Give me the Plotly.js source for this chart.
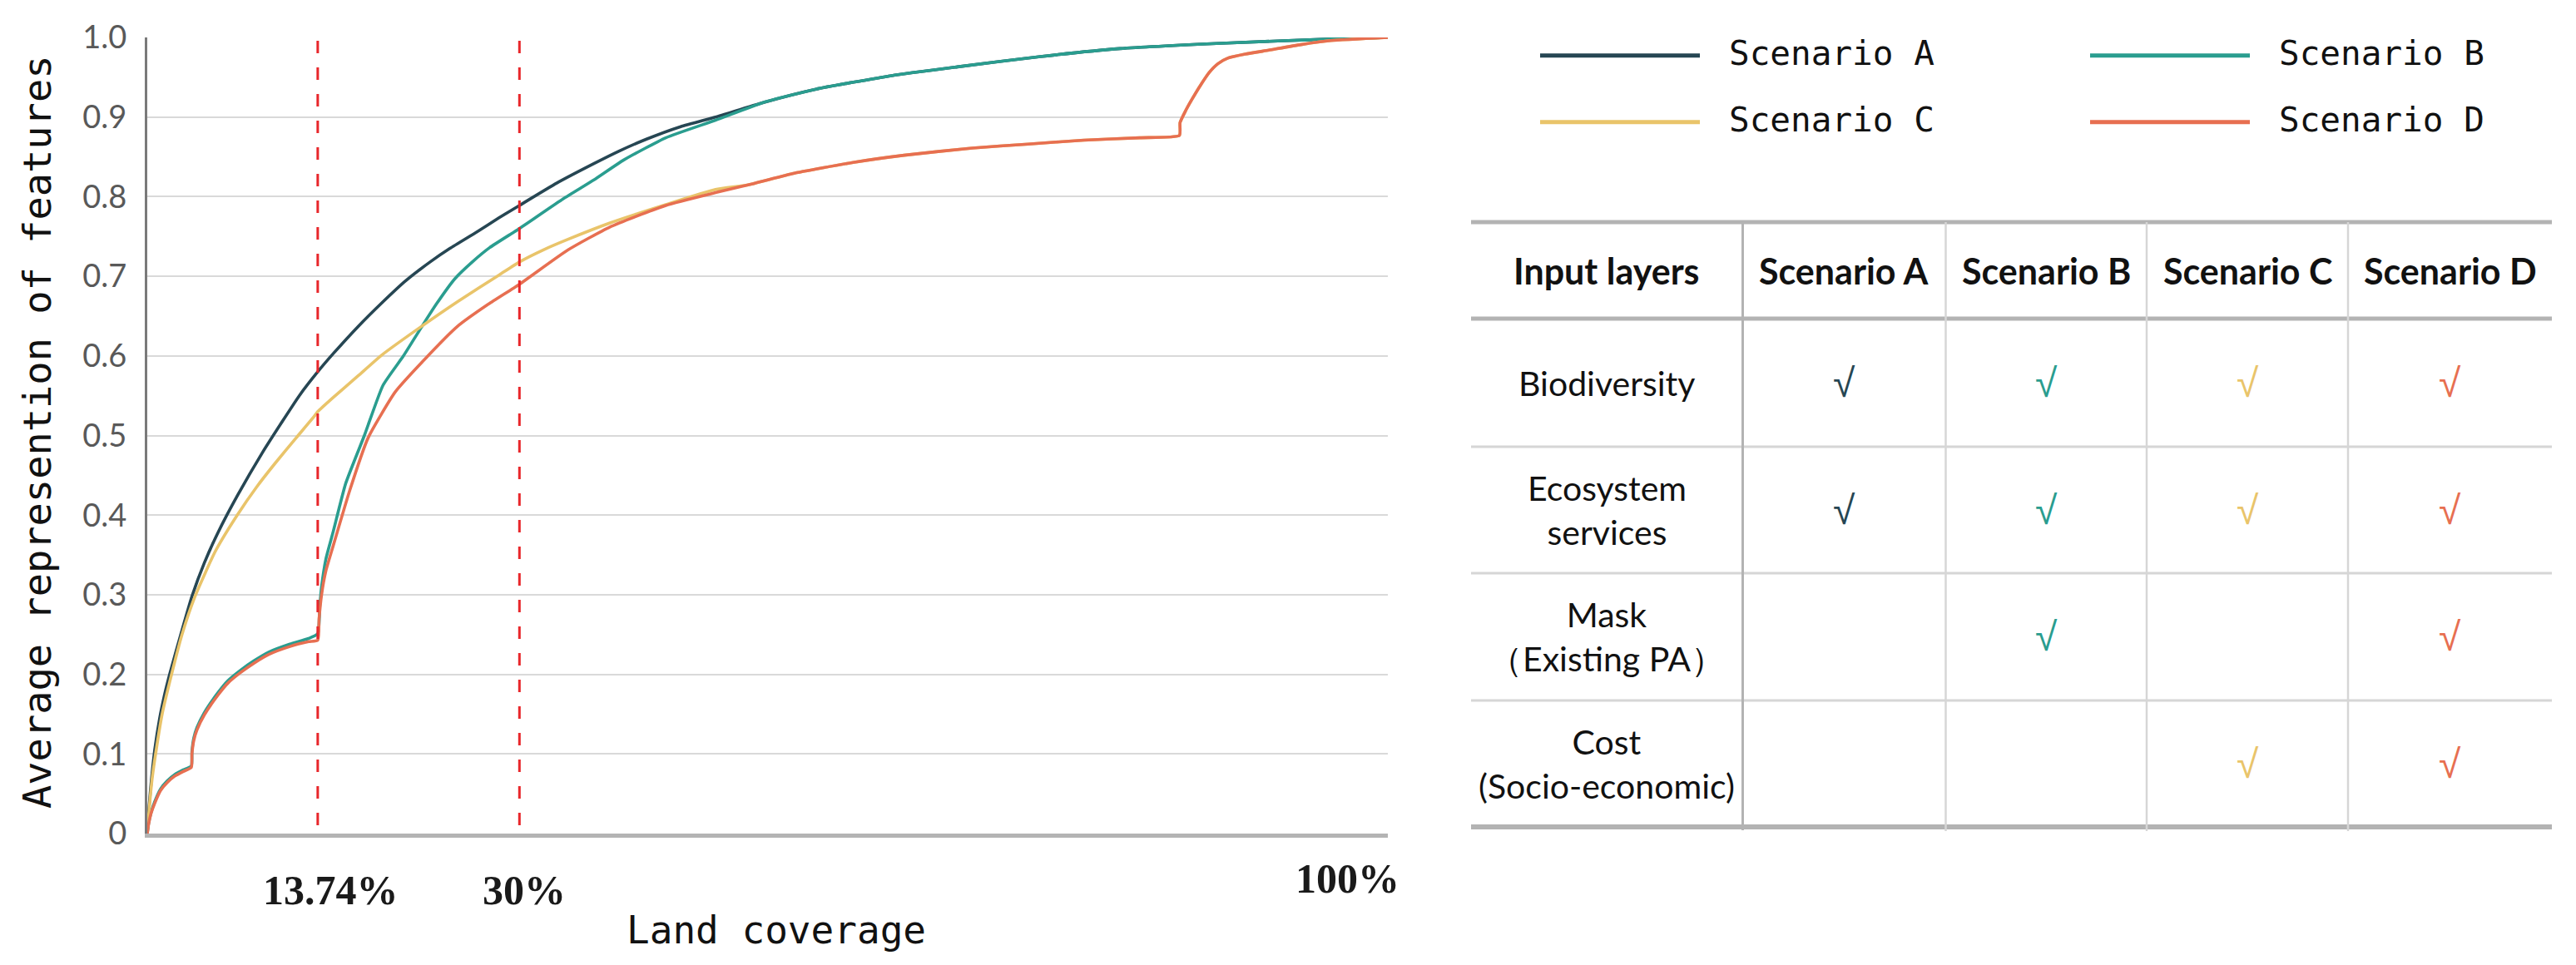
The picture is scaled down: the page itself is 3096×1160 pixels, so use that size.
<!DOCTYPE html>
<html><head><meta charset="utf-8">
<script src="https://cdn.plot.ly/plotly-3.0.1.min.js"></script>
<style>html,body{margin:0;padding:0;background:#fff;}#chart{width:3096px;height:1160px;}</style>
</head><body><div id="chart"></div>
<script>
// ---------------- data ----------------
const scenarioNames = ['Scenario A', 'Scenario B', 'Scenario C', 'Scenario D'];
const seriesColors = ['#264653', '#2a9d8f', '#e9c46a', '#e76f51'];

const aCoverage = [0,0.15,0.35,0.6,1.0,1.4,1.8,2.7,3.6,4.6,5.7,7.25,9.3,10.9,12.3,13.74,15.0,17.0,19.0,20.8,22.8,24.4,26.6,28.3,30,33,36,38,40.2,43,45.8,49.6,53.9,60,65.3,72,78.4,87,95.4,100];
const aRepresentation = [0,0.035,0.07,0.105,0.145,0.175,0.2,0.25,0.298,0.34,0.378,0.424,0.479,0.518,0.551,0.58,0.603,0.637,0.668,0.694,0.718,0.735,0.756,0.773,0.789,0.817,0.8415,0.857,0.872,0.888,0.90,0.918,0.935,0.952,0.963,0.976,0.986,0.993,0.998,1.0];

const bCoverage = [0,0.1,0.3,0.6,1.07,1.6,2.2,2.9,3.55,3.6,3.75,4.0,4.6,5.7,6.5,7.5,8.6,9.8,11.5,13.0,13.74,13.9,14.05,14.4,15.0,16.0,17.5,19.0,20.65,22.1,23.3,24.8,26.2,27.6,29.5,30,33.5,36,38.4,41.8,45.8,49.6,53.9,60,65.3,72,78.4,87,95.4,100];
const bRepresentation = [0,0.012,0.026,0.04,0.056,0.066,0.074,0.080,0.085,0.103,0.12,0.133,0.152,0.177,0.192,0.205,0.217,0.228,0.238,0.245,0.251,0.285,0.31,0.345,0.38,0.44,0.50,0.563,0.60,0.636,0.665,0.697,0.718,0.736,0.755,0.760,0.797,0.821,0.846,0.874,0.896,0.918,0.935,0.952,0.963,0.976,0.986,0.993,0.998,1.0];

const cCoverage = [0,0.15,0.4,0.74,1.2,1.8,2.8,3.85,5.5,7.25,8.8,10.3,12,13.5,13.74,15,17,18.9,22.1,25,28.4,30,31.9,34,37.3,41.8,45.8,48.5,52,56.9,61,66.5,71,75.5,80,83.2,83.25,83.7,84.2,84.9,85.6,86.3,87.1,88.5,90.4,93,95.4,100];
const cRepresentation = [0,0.03,0.07,0.107,0.15,0.19,0.25,0.298,0.355,0.40,0.435,0.465,0.497,0.525,0.53,0.548,0.575,0.601,0.637,0.668,0.702,0.718,0.733,0.747,0.767,0.790,0.809,0.815,0.829,0.843,0.852,0.861,0.866,0.871,0.874,0.877,0.893,0.908,0.922,0.94,0.956,0.967,0.974,0.979,0.984,0.991,0.996,1.0];

const dCoverage = [0,0.1,0.3,0.6,1.07,1.6,2.2,2.9,3.55,3.6,3.75,4.0,4.6,5.7,6.5,7.5,8.6,9.8,11.5,13.0,13.74,13.85,14.05,14.4,15.0,16.3,17.8,20.0,22.5,25,27.5,30,33.9,37.3,41.8,45.8,48.5,52,56.9,61,66.5,71,75.5,80,83.2,83.25,83.7,84.2,84.9,85.6,86.3,87.1,88.5,90.4,93,95.4,100];
const dRepresentation = [0,0.011,0.025,0.038,0.054,0.064,0.072,0.078,0.083,0.100,0.117,0.13,0.149,0.174,0.189,0.202,0.214,0.225,0.235,0.241,0.243,0.27,0.30,0.33,0.362,0.43,0.497,0.555,0.598,0.637,0.665,0.690,0.733,0.762,0.789,0.805,0.815,0.829,0.843,0.852,0.861,0.866,0.871,0.874,0.877,0.893,0.908,0.922,0.94,0.956,0.967,0.974,0.979,0.984,0.991,0.996,1.0];

const referenceCoverage = [13.74, 30];
const xTickVals = [13.74, 30, 100];
const xTickText = ['13.74%', '30%', '100%'];
const yTickVals = [0, 0.1, 0.2, 0.3, 0.4, 0.5, 0.6, 0.7, 0.8, 0.9, 1.0];
const yTickText = ['0', '0.1', '0.2', '0.3', '0.4', '0.5', '0.6', '0.7', '0.8', '0.9', '1.0'];

const tableHeader = ['Input layers', 'Scenario A', 'Scenario B', 'Scenario C', 'Scenario D'];
const inputLayers = ['Biodiversity', 'Ecosystem<br>services', 'Mask<br>（Existing PA）', 'Cost<br>(Socio-economic)'];
const usesA = [1, 1, 0, 0];
const usesB = [1, 1, 1, 0];
const usesC = [1, 1, 0, 1];
const usesD = [1, 1, 1, 1];

// ---------------- layout helpers ----------------
const W = 3096, H = 1160;
const PL = 177, PR = 1668, PT = 45, PB = 1002;
const px = v => v / W;
const py = v => 1 - v / H;

const xs = [aCoverage, bCoverage, cCoverage, dCoverage];
const ys = [aRepresentation, bRepresentation, cRepresentation, dRepresentation];
const traces = scenarioNames.map((n, i) => ({
  type: 'scatter', mode: 'lines', name: n, x: xs[i], y: ys[i],
  line: {color: seriesColors[i], width: 3.6, shape: 'spline', smoothing: 0.5}, showlegend: false, hoverinfo: 'skip'
}));

const shapes = [];
const annotations = [];

// reference dashed lines
referenceCoverage.forEach(v => shapes.push({
  type: 'line', xref: 'x', yref: 'y', x0: v, x1: v, y0: -0.023, y1: 1,
  line: {color: '#e8262a', width: 3, dash: '15px,17px'}, layer: 'above'
}));

// x tick labels
const xLabShift = [16, 6, -49];
const xLabY = [1070, 1070, 1056];
xTickText.forEach((t, i) => annotations.push({
  xref: 'x', yref: 'paper', x: xTickVals[i], y: py(xLabY[i]), xshift: xLabShift[i],
  text: t, showarrow: false, xanchor: 'center', yanchor: 'middle',
  font: {family: 'Liberation Serif', size: 50, color: '#1a1a1a', weight: 700}
}));

// axis titles
annotations.push({
  xref: 'paper', yref: 'paper', x: px(44), y: py(520), textangle: -90,
  text: 'Average represention of features', showarrow: false, xanchor: 'center', yanchor: 'middle',
  font: {family: 'DejaVu Sans Mono', size: 47, color: '#111'}
});
annotations.push({
  xref: 'paper', yref: 'paper', x: px(933), y: py(1118),
  text: 'Land coverage', showarrow: false, xanchor: 'center', yanchor: 'middle',
  font: {family: 'DejaVu Sans Mono', size: 46, color: '#111'}
});

// legend (manual)
const legRowY = [66.7, 146.7, 66.7, 146.7];
const legColX = [1851, 1851, 2512, 2512];
const legOrder = [0, 2, 1, 3];
legOrder.forEach((si, k) => {
  const x0 = legColX[k], y0 = legRowY[k];
  shapes.push({type: 'line', xref: 'paper', yref: 'paper', x0: px(x0), x1: px(x0 + 192), y0: py(y0), y1: py(y0),
    line: {color: seriesColors[si], width: 5}});
  annotations.push({xref: 'paper', yref: 'paper', x: px(x0 + 225), y: py(y0 - 3), text: scenarioNames[si],
    showarrow: false, xanchor: 'left', yanchor: 'middle',
    font: {family: 'DejaVu Sans Mono', size: 41, color: '#111'}});
});

// table
const colEdges = [1768, 2094.5, 2338.5, 2580, 2822, 3067];
const rowEdges = [267, 383, 537, 689, 842, 994];
const dark = '#b3b3b3', light = '#d6d6d6';
shapes.push({type: 'line', xref: 'paper', yref: 'paper', x0: px(colEdges[0]), x1: px(colEdges[5]), y0: py(rowEdges[0]), y1: py(rowEdges[0]), line: {color: dark, width: 5}});
shapes.push({type: 'line', xref: 'paper', yref: 'paper', x0: px(colEdges[0]), x1: px(colEdges[5]), y0: py(rowEdges[1]), y1: py(rowEdges[1]), line: {color: dark, width: 5}});
[2, 3, 4].forEach(r => shapes.push({type: 'line', xref: 'paper', yref: 'paper', x0: px(colEdges[0]), x1: px(colEdges[5]), y0: py(rowEdges[r]), y1: py(rowEdges[r]), line: {color: light, width: 3}}));
shapes.push({type: 'line', xref: 'paper', yref: 'paper', x0: px(colEdges[0]), x1: px(colEdges[5]), y0: py(rowEdges[5]), y1: py(rowEdges[5]), line: {color: dark, width: 6}});
shapes.push({type: 'line', xref: 'paper', yref: 'paper', x0: px(colEdges[1]), x1: px(colEdges[1]), y0: py(rowEdges[0]), y1: py(rowEdges[5] + 4), line: {color: dark, width: 3}});
[2, 3, 4].forEach(c => shapes.push({type: 'line', xref: 'paper', yref: 'paper', x0: px(colEdges[c]), x1: px(colEdges[c]), y0: py(rowEdges[0]), y1: py(rowEdges[5] + 5), line: {color: light, width: 2.5}}));

const colCenter = c => (colEdges[c] + colEdges[c + 1]) / 2;
const rowCenter = r => (rowEdges[r] + rowEdges[r + 1]) / 2;
tableHeader.forEach((t, c) => annotations.push({
  xref: 'paper', yref: 'paper', x: px(colCenter(c)), y: py(rowCenter(0)), text: t, showarrow: false,
  xanchor: 'center', yanchor: 'middle', font: {family: 'Lato', size: 43, color: '#111', weight: 700}
}));
inputLayers.forEach((t, r) => annotations.push({
  xref: 'paper', yref: 'paper', x: px(colCenter(0)), y: py(rowCenter(r + 1)), text: t, showarrow: false,
  xanchor: 'center', yanchor: 'middle', font: {family: 'Lato', size: 41, color: '#111'}
}));
const uses = [usesA, usesB, usesC, usesD];
uses.forEach((u, s) => u.forEach((flag, r) => {
  if (!flag) return;
  annotations.push({
    xref: 'paper', yref: 'paper', x: px(colCenter(s + 1)), y: py(rowCenter(r + 1)), text: '√', showarrow: false,
    xanchor: 'center', yanchor: 'middle', font: {family: 'Liberation Sans', size: 48, color: seriesColors[s]}
  });
}));

const layout = {
  width: W, height: H, autosize: false,
  margin: {l: 0, r: 0, t: 0, b: 0, pad: 0},
  paper_bgcolor: '#ffffff', plot_bgcolor: '#ffffff',
  showlegend: false,
  xaxis: {
    domain: [px(PL), px(PR)], range: [0, 100], showgrid: false, zeroline: false,
    showline: true, linecolor: '#b4b4b4', linewidth: 5, showticklabels: false, ticks: '', fixedrange: true
  },
  yaxis: {
    domain: [1 - PB / H, 1 - PT / H], range: [0, 1], tickvals: yTickVals, ticktext: yTickText,
    showgrid: true, gridcolor: '#d9d9d9', gridwidth: 2, zeroline: false,
    showline: true, linecolor: '#7a7a7a', linewidth: 3, ticks: '', ticklabelstandoff: 14,
    tickfont: {family: 'Lato', size: 38, color: '#595959'}, fixedrange: true
  },
  shapes: shapes,
  annotations: annotations
};

Plotly.newPlot('chart', traces, layout, {staticPlot: true, displayModeBar: false});
</script>
</body></html>
